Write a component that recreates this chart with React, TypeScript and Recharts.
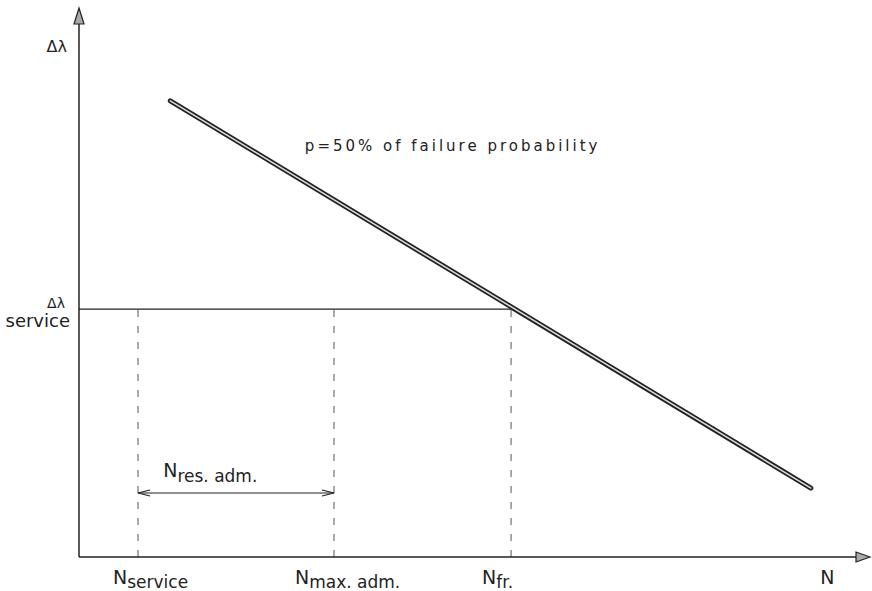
import React from "react";
import { ComposedChart, Line, XAxis, YAxis, ReferenceLine, ReferenceDot } from "recharts";

// Fatigue (S-N) schematic: N on x, Δλ on y (arbitrary units 0..100)
const failureLine = [
  { n: 11.6, d: 83.4 },
  { n: 93.0, d: 12.6 },
];
const nService = 7.5;
const nMaxAdm = 32.4;
const nFr = 54.9;
const nAxisLabel = 95.2;
const dService = 45.3;
const dAxisLabel = 93.6;
const resArrowLevel = 11.7;
const resLabel = { n: 10.7, d: 14.6 };
const curveLabel = { n: 28.7, d: 74.2, text: "p=50% of failure probability" };

const xTicks = [nService, nMaxAdm, nFr, nAxisLabel];
const xTickMain = ["N", "N", "N", "N"];
const xTickSub = ["service", "max. adm.", "fr.", ""];
const xTickShift = [-25, -39, -29, -8];
const yTicks = [dService, dAxisLabel];

const INK = "#222";
const FONT = "'DejaVu Sans', sans-serif";

const XTick = (props: any) => {
  const { x, y, index } = props;
  const main = xTickMain[index];
  const sub = xTickSub[index];
  return (
    <text x={x + xTickShift[index]} y={y + 19} fill={INK} fontFamily={FONT} textAnchor="start">
      <tspan fontSize={19}>{main}</tspan>
      {sub ? (
        <tspan fontSize={17} dy={4}>
          {sub}
        </tspan>
      ) : null}
    </text>
  );
};

const YTick = (props: any) => {
  const { x, y, index } = props;
  if (index === 0) {
    return (
      <g fill={INK} fontFamily={FONT}>
        <text x={x - 15} y={y - 1} fontSize={14} textAnchor="middle">Δλ</text>
        <text x={x - 1} y={y + 18} fontSize={18} textAnchor="end">service</text>
      </g>
    );
  }
  return (
    <text x={x - 4} y={y + 7} fontSize={16} fill={INK} fontFamily={FONT} textAnchor="end">
      Δλ
    </text>
  );
};

const UpArrow = (props: any) => {
  const { cx, cy } = props;
  return (
    <path
      d={`M${cx},${cy - 2} L${cx - 5},${cy + 14} L${cx + 5},${cy + 14} Z`}
      fill="#aaa"
      stroke={INK}
      strokeWidth={1.2}
    />
  );
};

const RightArrow = (props: any) => {
  const { cx, cy } = props;
  return (
    <path
      d={`M${cx + 4},${cy} L${cx - 10},${cy - 5} L${cx - 10},${cy + 5} Z`}
      fill="#aaa"
      stroke={INK}
      strokeWidth={1.2}
    />
  );
};

const OpenLeft = (props: any) => {
  const { cx, cy } = props;
  return (
    <path
      d={`M${cx + 12},${cy - 3} L${cx},${cy} L${cx + 12},${cy + 3}`}
      fill="none"
      stroke={INK}
      strokeWidth={1.2}
    />
  );
};
const OpenRight = (props: any) => {
  const { cx, cy } = props;
  return (
    <path
      d={`M${cx - 12},${cy - 3} L${cx},${cy} L${cx - 12},${cy + 3}`}
      fill="none"
      stroke={INK}
      strokeWidth={1.2}
    />
  );
};

const ResLabel = (props: any) => {
  const { cx, cy } = props;
  return (
    <text x={cx} y={cy} fill={INK} fontFamily={FONT} textAnchor="start">
      <tspan fontSize={19}>N</tspan>
      <tspan fontSize={17} dy={5}>res. adm.</tspan>
    </text>
  );
};

const CurveLabel = (props: any) => {
  const { cx, cy } = props;
  return (
    <text x={cx} y={cy} fill={INK} fontFamily={FONT} fontSize={15} letterSpacing={3} textAnchor="start">
      {curveLabel.text}
    </text>
  );
};

export default function App() {
  return (
    <div style={{ position: "absolute", left: 0, top: 0, background: "#fff" }}>
      <ComposedChart
        width={872}
        height={591}
        data={failureLine}
        margin={{ top: 10, right: 6, bottom: 0, left: 0 }}
      >
        <XAxis
          dataKey="n"
          type="number"
          domain={[0, 100]}
          ticks={xTicks}
          tick={<XTick />}
          tickLine={false}
          axisLine={{ stroke: INK, strokeWidth: 1.5 }}
          height={34}
          interval={0}
        />
        <YAxis
          type="number"
          domain={[0, 100]}
          ticks={yTicks}
          tick={<YTick />}
          tickLine={false}
          axisLine={{ stroke: INK, strokeWidth: 1.5 }}
          width={79}
          interval={0}
        />
        <ReferenceLine
          segment={[{ x: 0, y: dService }, { x: nFr, y: dService }]}
          stroke={INK}
          strokeWidth={1.2}
        />
        {[nService, nMaxAdm, nFr].map((v) => (
          <ReferenceLine
            key={v}
            segment={[{ x: v, y: 0 }, { x: v, y: dService }]}
            stroke="#555"
            strokeWidth={1}
            strokeDasharray="7 9"
          />
        ))}
        <ReferenceLine
          segment={[{ x: nService, y: resArrowLevel }, { x: nMaxAdm, y: resArrowLevel }]}
          stroke={INK}
          strokeWidth={1.2}
        />
        <ReferenceDot x={nService} y={resArrowLevel} r={0} shape={<OpenLeft />} ifOverflow="visible" />
        <ReferenceDot x={nMaxAdm} y={resArrowLevel} r={0} shape={<OpenRight />} ifOverflow="visible" />
        <ReferenceDot x={resLabel.n} y={resLabel.d} r={0} shape={<ResLabel />} ifOverflow="visible" />
        <ReferenceDot x={curveLabel.n} y={curveLabel.d} r={0} shape={<CurveLabel />} ifOverflow="visible" />
        <ReferenceDot x={0} y={100} r={0} shape={<UpArrow />} ifOverflow="visible" />
        <ReferenceDot x={100} y={0} r={0} shape={<RightArrow />} ifOverflow="visible" />
        <Line
          dataKey="d"
          stroke={INK}
          strokeWidth={5}
          dot={false}
          isAnimationActive={false}
          strokeLinecap="round"
        />
        <Line
          dataKey="d"
          stroke="#ddd"
          strokeWidth={1.5}
          dot={false}
          isAnimationActive={false}
          strokeLinecap="round"
        />
      </ComposedChart>
    </div>
  );
}
